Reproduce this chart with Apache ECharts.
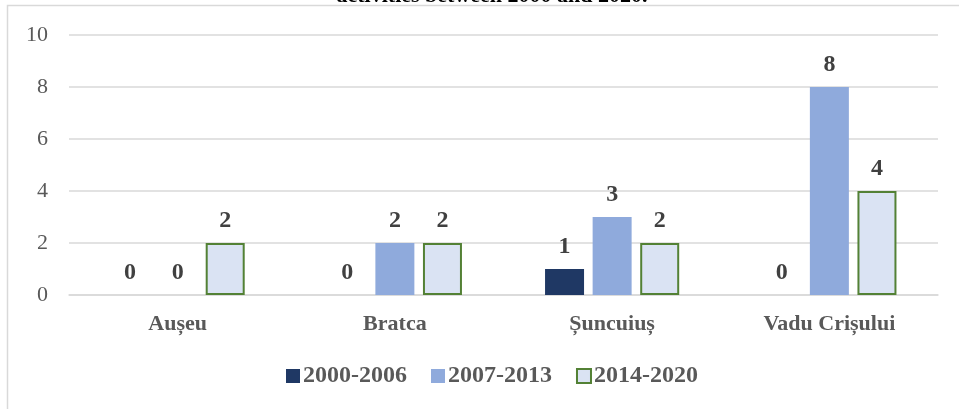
<!DOCTYPE html>
<html>
<head>
<meta charset="utf-8">
<script src="https://cdn.jsdelivr.net/npm/echarts@6/dist/echarts.min.js"></script>
<style>
html,body{margin:0;padding:0;background:#fff;}
#c{width:959px;height:409px;}
</style>
</head>
<body>
<div id="c"></div>
<script>
var categories = ['Aușeu', 'Bratca', 'Șuncuiuș', 'Vadu Crișului'];
var seriesNames = ['2000-2006', '2007-2013', '2014-2020'];
var values2000 = [0, 0, 1, 0];
var values2007 = [0, 2, 3, 8];
var values2014 = [2, 2, 2, 4];
var yTicks = [0, 2, 4, 6, 8, 10];
var titleText = 'activities between 2000 and 2020.';

var font = '"Liberation Serif", "Times New Roman", serif';
var chart = echarts.init(document.getElementById('c'));
var labelCfg = {
  show: true, position: 'top', distance: 10,
  fontFamily: font, fontWeight: 'bold', fontSize: 24, color: '#404040'
};
chart.setOption({
  animation: false,
  title: {
    text: titleText, left: 487, textAlign: 'center', top: -20,
    textStyle: {fontFamily: font, fontWeight: 'bold', fontSize: 22, color: '#000'}
  },
  graphic: [{
    type: 'rect', shape: {x: 7.5, y: 5.5, width: 1000, height: 500},
    style: {fill: 'none', stroke: '#d9d9d9', lineWidth: 1.5}, silent: true, z: -1
  }],
  grid: {left: 69, right: 21, top: 35, bottom: 114},
  legend: {
    data: seriesNames, bottom: 16, left: 281, itemWidth: 14, itemHeight: 14,
    itemGap: 24, icon: 'rect',
    textStyle: {fontFamily: font, fontWeight: 'bold', fontSize: 24, color: '#595959', padding: [0, 0, 0, -2]}
  },
  xAxis: {
    type: 'category', data: categories,
    axisLine: {show: true, lineStyle: {color: '#d9d9d9', width: 1.5}},
    axisTick: {show: false},
    axisLabel: {fontFamily: font, fontWeight: 'bold', fontSize: 22, color: '#595959', margin: 18}
  },
  yAxis: {
    type: 'value', min: yTicks[0], max: yTicks[yTicks.length - 1], interval: 2,
    axisLine: {show: false}, axisTick: {show: false},
    splitLine: {lineStyle: {color: '#d9d9d9', width: 1.5}},
    axisLabel: {fontFamily: font, fontSize: 22, color: '#595959', margin: 21}
  },
  series: [
    {name: seriesNames[0], type: 'bar', data: values2000, barWidth: 39, barGap: '22%',
     itemStyle: {color: '#1f3864'}, label: labelCfg},
    {name: seriesNames[1], type: 'bar', data: values2007, barWidth: 39, barGap: '22%',
     itemStyle: {color: '#8faadc'}, label: labelCfg},
    {name: seriesNames[2], type: 'bar', data: values2014, barWidth: 39, barGap: '22%',
     itemStyle: {color: '#dae3f3', borderColor: '#538135', borderWidth: 2}, label: labelCfg}
  ]
});
</script>
</body>
</html>
